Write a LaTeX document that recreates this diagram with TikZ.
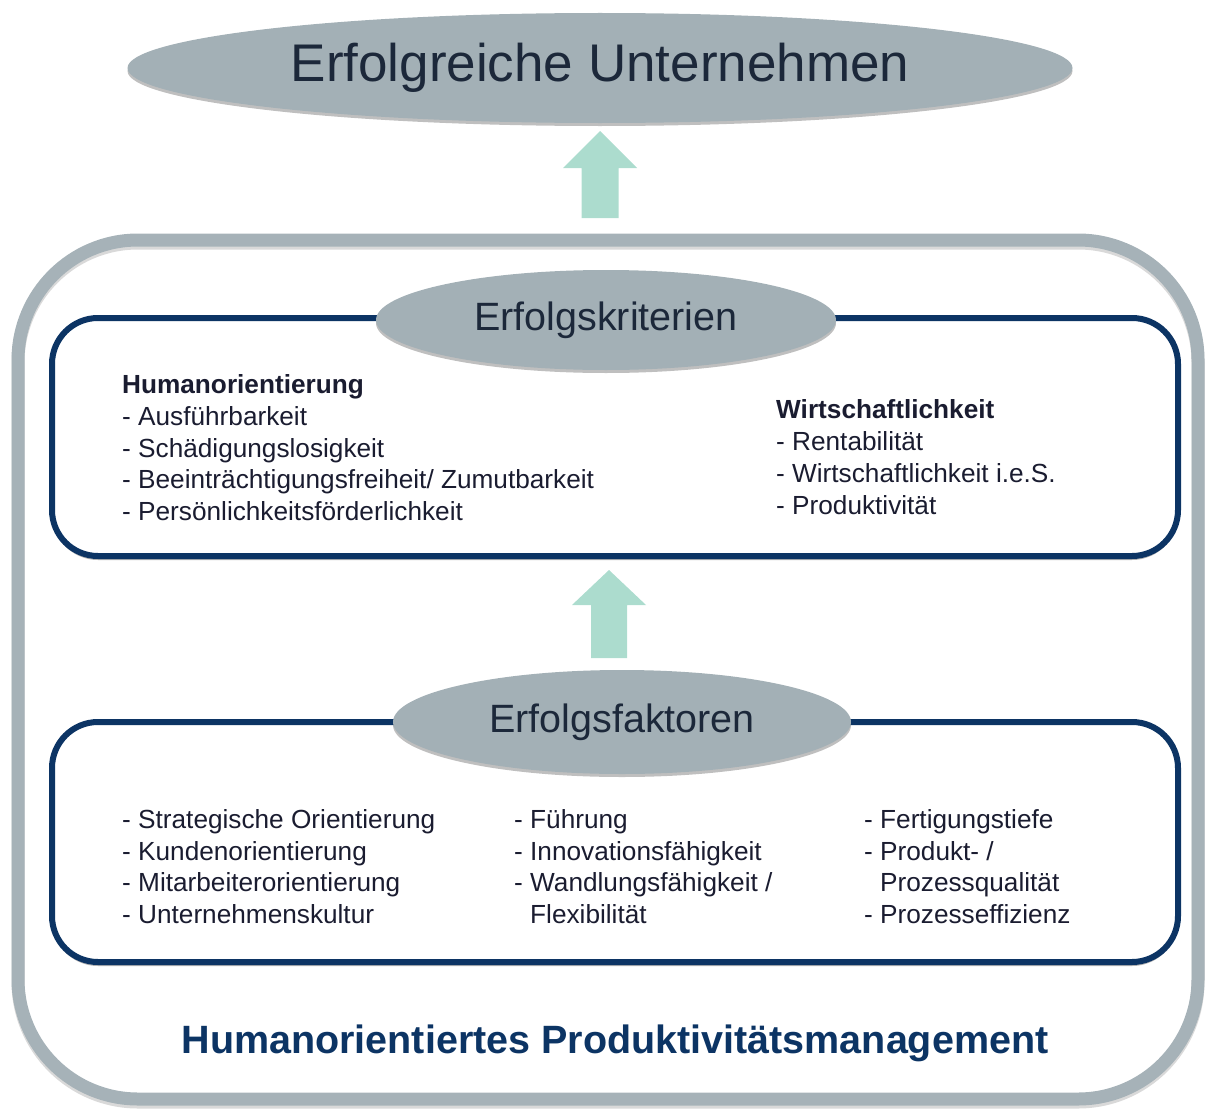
\documentclass[tikz,border=0pt]{standalone}
\usepackage{fontspec}
\setmainfont{Liberation Sans}
\usetikzlibrary{shapes.geometric,shadows}
\definecolor{ellc}{RGB}{163,176,182}
\definecolor{framec}{RGB}{166,178,184}
\definecolor{navy}{RGB}{12,52,100}
\definecolor{arrowc}{RGB}{172,220,206}
\definecolor{txt}{RGB}{26,28,48}
\definecolor{titc}{RGB}{28,40,58}
\begin{document}
\begin{tikzpicture}[x=1pt,y=-1pt,
  ell/.style={ellipse, fill=ellc, inner sep=0pt, text=titc,
    drop shadow={shadow xshift=0pt,shadow yshift=-3pt,opacity=0.25,fill=black}},
  boxframe/.style={draw=navy, line width=6pt, rounded corners=46pt, fill=white,
    drop shadow={shadow xshift=0pt,shadow yshift=-4pt,opacity=0.3,fill=black}},
  item/.style={anchor=base west, inner sep=0pt, text=txt, font=\fontsize{26.2}{30}\selectfont},
  head/.style={item, font=\fontsize{26.2}{30}\selectfont\bfseries},
  blockarrow/.style={fill=arrowc}]
\useasboundingbox (0,0) rectangle (1215,1108);
% outer frame with a soft stroke shadow
\draw[black, opacity=0.15, line width=13pt, rounded corners=120pt]
  (18,243) rectangle (1198,1102);
\draw[framec, line width=13pt, rounded corners=120pt]
  (18,240) rectangle (1198,1099);
% top ellipse
\node[ell, minimum width=945pt, minimum height=110pt,
  font=\fontsize{53}{60}\selectfont] (top) at (600,68) {Erfolgreiche Unternehmen};
% arrow 1
\coordinate (a1) at (600,218);
\fill[blockarrow] (a1) ++(-18.5,0) -- ++(0,-50) -- ++(-18.5,0) -- (600,131)
  -- (637,168) -- (618.5,168) -- (618.5,218) -- cycle;
% box 1
\draw[boxframe] (52,318) rectangle (1178,556);
\node[ell, minimum width=460pt, minimum height=100pt,
  font=\fontsize{39.5}{46}\selectfont] (krit) at (606,320) {Erfolgskriterien};
\node[head] (h1) at (122,393) {Humanorientierung};
\node[item] (h2) at (122,425) {- Ausführbarkeit};
\node[item] (h3) at (122,457) {- Schädigungslosigkeit};
\node[item] (h4) at (122,488) {- Beeinträchtigungsfreiheit/ Zumutbarkeit};
\node[item] (h5) at (122,520) {- Persönlichkeitsförderlichkeit};
\node[head] (w1) at (776,418) {Wirtschaftlichkeit};
\node[item] (w2) at (776,450) {- Rentabilität};
\node[item] (w3) at (776,482) {- Wirtschaftlichkeit i.e.S.};
\node[item] (w4) at (776,514) {- Produktivität};
% arrow 2
\coordinate (a2) at (609,658);
\fill[blockarrow] (a2) ++(-18,0) -- ++(0,-53) -- ++(-19,0) -- (609,570)
  -- (646,605) -- (627,605) -- (627,658) -- cycle;
% box 2
\draw[boxframe] (52,722) rectangle (1178,962);
\node[ell, minimum width=458pt, minimum height=104pt,
  font=\fontsize{39.5}{46}\selectfont] (fakt) at (622,722) {Erfolgsfaktoren};
\node[item] (f1) at (122,828) {- Strategische Orientierung};
\node[item] (f2) at (122,860) {- Kundenorientierung};
\node[item] (f3) at (122,891) {- Mitarbeiterorientierung};
\node[item] (f4) at (122,923) {- Unternehmenskultur};
\node[item] (g1) at (514,828) {- Führung};
\node[item] (g2) at (514,860) {- Innovationsfähigkeit};
\node[item] (g3) at (514,891) {- Wandlungsfähigkeit /};
\node[item] (g4) at (530,923) {Flexibilität};
\node[item] (p1) at (864,828) {- Fertigungstiefe};
\node[item] (p2) at (864,860) {- Produkt- /};
\node[item] (p3) at (880,891) {Prozessqualität};
\node[item] (p4) at (864,923) {- Prozesseffizienz};
% bottom title
\node[inner sep=0pt, text=navy, font=\fontsize{39.5}{46}\selectfont\bfseries]
  (title) at (615,1043) {Humanorientiertes Produktivitätsmanagement};
\end{tikzpicture}
\end{document}
